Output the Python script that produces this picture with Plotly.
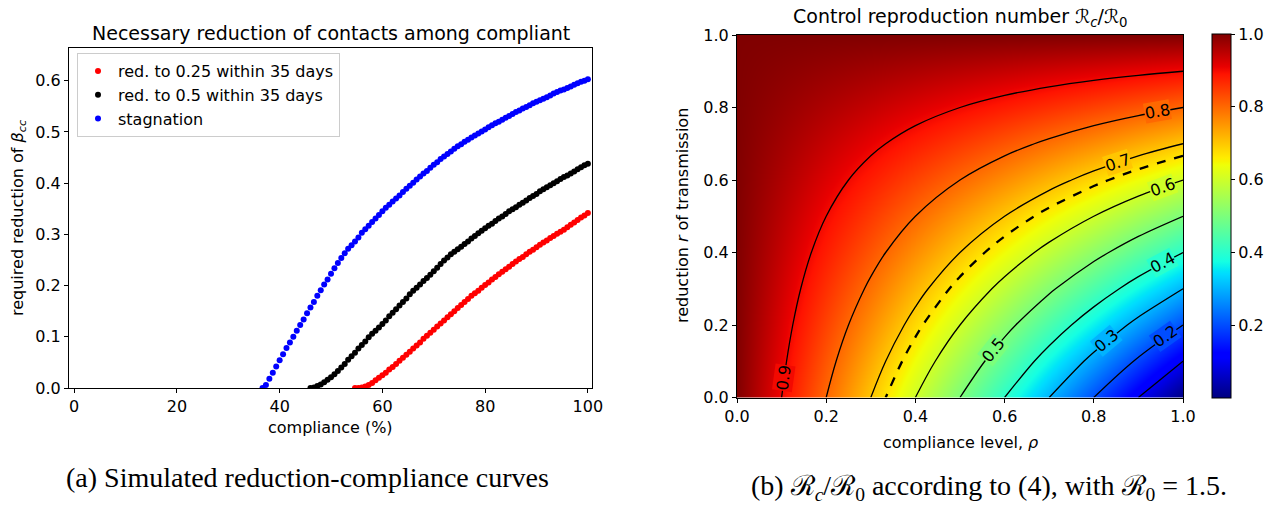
import plotly.graph_objects as go

W, H = 1277, 507

# ---------------- data: left panel ----------------
# simulated compliance grid (151 points from 0 to 100 %)
compliance_grid = [round(i * 2 / 3, 3) for i in range(151)]
red_start, black_start, blue_start = 82, 69, 55

red_025 = [0.000, 0.000, 0.001, 0.003, 0.006, 0.010, 0.015, 0.020, 0.025, 0.030,
           0.036, 0.041, 0.047, 0.053, 0.059, 0.065, 0.071, 0.077, 0.083, 0.089,
           0.096, 0.102, 0.108, 0.114, 0.120, 0.126, 0.132, 0.138, 0.144, 0.150,
           0.156, 0.162, 0.168, 0.174, 0.180, 0.185, 0.190, 0.196, 0.201, 0.206,
           0.212, 0.217, 0.222, 0.227, 0.232, 0.237, 0.242, 0.247, 0.252, 0.256,
           0.261, 0.266, 0.270, 0.275, 0.280, 0.284, 0.288, 0.293, 0.297, 0.301,
           0.305, 0.309, 0.314, 0.319, 0.323, 0.328, 0.333, 0.337, 0.342]

black_05 = [0.000, 0.001, 0.004, 0.007, 0.011, 0.016, 0.021, 0.027, 0.033, 0.040,
            0.047, 0.055, 0.062, 0.069, 0.077, 0.084, 0.091, 0.099, 0.106, 0.112,
            0.118, 0.125, 0.132, 0.140, 0.147, 0.154, 0.161, 0.168, 0.175, 0.183,
            0.190, 0.196, 0.202, 0.209, 0.215, 0.221, 0.228, 0.235, 0.242, 0.249,
            0.255, 0.261, 0.266, 0.271, 0.276, 0.281, 0.286, 0.292, 0.297, 0.302,
            0.307, 0.312, 0.317, 0.321, 0.326, 0.331, 0.335, 0.340, 0.345, 0.349,
            0.353, 0.358, 0.362, 0.366, 0.371, 0.375, 0.379, 0.384, 0.388, 0.392,
            0.396, 0.400, 0.404, 0.408, 0.412, 0.415, 0.419, 0.423, 0.427, 0.431,
            0.435, 0.438]

stagnation = [0.000, 0.006, 0.018, 0.030, 0.042, 0.054, 0.066, 0.078, 0.089, 0.100,
              0.112, 0.123, 0.134, 0.146, 0.157, 0.168, 0.180, 0.191, 0.202, 0.212,
              0.223, 0.234, 0.244, 0.254, 0.263, 0.272, 0.279, 0.286, 0.294, 0.303,
              0.310, 0.317, 0.324, 0.331, 0.338, 0.345, 0.352, 0.358, 0.364, 0.370,
              0.376, 0.383, 0.389, 0.395, 0.401, 0.407, 0.413, 0.419, 0.424, 0.430,
              0.436, 0.441, 0.447, 0.452, 0.457, 0.462, 0.467, 0.472, 0.476, 0.481,
              0.485, 0.489, 0.493, 0.497, 0.501, 0.505, 0.509, 0.513, 0.517, 0.520,
              0.524, 0.528, 0.531, 0.535, 0.539, 0.542, 0.546, 0.549, 0.552, 0.556,
              0.559, 0.562, 0.565, 0.568, 0.571, 0.575, 0.578, 0.581, 0.583, 0.586,
              0.589, 0.592, 0.595, 0.598, 0.600, 0.603]

series_names = ["red. to 0.25 within 35 days", "red. to 0.5 within 35 days", "stagnation"]

# ---------------- data: right panel ----------------
rho_levels = [0.0, 0.1, 0.2, 0.3, 0.4, 0.5, 0.6, 0.7, 0.8, 0.9, 1.0]
r_levels = [0.0, 0.1, 0.2, 0.3, 0.4, 0.5, 0.6, 0.7, 0.8, 0.9, 1.0]
rc_ratio = [
    [1.00, 0.90, 0.80, 0.70, 0.60, 0.50, 0.40, 0.30, 0.20, 0.10, 0.00],
    [1.00, 0.91, 0.82, 0.73, 0.64, 0.55, 0.46, 0.37, 0.28, 0.19, 0.10],
    [1.00, 0.92, 0.84, 0.76, 0.68, 0.60, 0.52, 0.44, 0.36, 0.28, 0.20],
    [1.00, 0.93, 0.86, 0.79, 0.72, 0.65, 0.58, 0.51, 0.44, 0.37, 0.30],
    [1.00, 0.94, 0.88, 0.82, 0.76, 0.70, 0.64, 0.58, 0.52, 0.46, 0.40],
    [1.00, 0.95, 0.90, 0.85, 0.80, 0.75, 0.70, 0.65, 0.60, 0.55, 0.50],
    [1.00, 0.96, 0.92, 0.88, 0.84, 0.80, 0.76, 0.72, 0.68, 0.64, 0.60],
    [1.00, 0.97, 0.94, 0.91, 0.88, 0.85, 0.82, 0.79, 0.76, 0.73, 0.70],
    [1.00, 0.98, 0.96, 0.94, 0.92, 0.90, 0.88, 0.86, 0.84, 0.82, 0.80],
    [1.00, 0.99, 0.98, 0.97, 0.96, 0.95, 0.94, 0.93, 0.92, 0.91, 0.90],
    [1.00, 1.00, 1.00, 1.00, 1.00, 1.00, 1.00, 1.00, 1.00, 1.00, 1.00],
]
R0 = 1.5

# inline contour labels: text, position (rho, r), rotation, background colour
contour_labels = [
    ("0.9", 0.105, 0.055, -82, "rgb(243,9,0)"),
    ("0.8", 0.942, 0.788, -10, "rgb(255,104,0)"),
    ("0.7", 0.854, 0.649, -18, "rgb(255,198,0)"),
    ("0.6", 0.953, 0.580, -20, "rgb(206,255,41)"),
    ("0.5", 0.574, 0.129, -51, "rgb(123,255,123)"),
    ("0.4", 0.955, 0.372, -28, "rgb(41,255,206)"),
    ("0.3", 0.829, 0.156, -40, "rgb(0,179,255)"),
    ("0.2", 0.960, 0.167, -35, "rgb(0,77,255)"),
]

# matplotlib "jet"
jet = [
    [0.0, "rgb(0,0,128)"], [0.11, "rgb(0,0,255)"], [0.125, "rgb(0,0,255)"],
    [0.34, "rgb(0,219,255)"], [0.35, "rgb(0,230,247)"], [0.375, "rgb(21,255,226)"],
    [0.64, "rgb(239,255,8)"], [0.65, "rgb(247,245,0)"], [0.66, "rgb(255,236,0)"],
    [0.89, "rgb(255,19,0)"], [0.91, "rgb(232,0,0)"], [1.0, "rgb(128,0,0)"],
]


def px(x):
    return x / W


def py(y):
    return 1 - y / H


SANS = "DejaVu Sans"
SERIF = "Liberation Serif"

fig = go.Figure()

colors = ["red", "black", "blue"]
starts = [red_start, black_start, blue_start]
values = [red_025, black_05, stagnation]
for name, col, st, vals in zip(series_names, colors, starts, values):
    fig.add_trace(go.Scatter(
        x=compliance_grid[st:st + len(vals)], y=vals, mode="markers",
        marker=dict(color=col, size=6, line=dict(width=0)),
        name=name, xaxis="x", yaxis="y",
    ))

fig.add_trace(go.Heatmap(
    x=rho_levels, y=r_levels, z=rc_ratio, colorscale=jet, zmin=0, zmax=1,
    zsmooth="best", xaxis="x2", yaxis="y2", showlegend=False,
    colorbar=dict(
        x=px(1212), xanchor="left", xpad=0, ypad=0,
        y=py(216), yanchor="middle", len=364, lenmode="pixels",
        thickness=19, thicknessmode="pixels",
        outlinecolor="black", outlinewidth=1,
        tickvals=[0.2, 0.4, 0.6, 0.8, 1.0], ticktext=["0.2", "0.4", "0.6", "0.8", "1.0"],
        ticks="outside", ticklen=4, tickcolor="black",
        tickfont=dict(family=SANS, size=16, color="black"),
    ),
))

fig.add_trace(go.Contour(
    x=rho_levels, y=r_levels, z=rc_ratio, xaxis="x2", yaxis="y2",
    contours=dict(start=0.1, end=0.9, size=0.1, coloring="none", showlabels=False),
    line=dict(color="black", width=1.3, smoothing=1),
    showscale=False, showlegend=False, hoverinfo="skip",
))
fig.add_trace(go.Contour(
    x=rho_levels, y=r_levels, z=rc_ratio, xaxis="x2", yaxis="y2",
    contours=dict(start=1 / R0, end=1 / R0, size=0.1, coloring="none"),
    line=dict(color="black", width=2.3, dash="dash", smoothing=1),
    showscale=False, showlegend=False, hoverinfo="skip",
))

axis_common = dict(
    showline=True, linecolor="black", linewidth=1, mirror=True,
    ticks="outside", ticklen=4, tickcolor="black", showgrid=False, zeroline=False,
    tickfont=dict(family=SANS, size=16, color="black"),
)

fig.update_layout(
    width=W, height=H,
    margin=dict(l=0, r=0, t=0, b=0, pad=0, autoexpand=False),
    paper_bgcolor="white", plot_bgcolor="white",
    xaxis=dict(domain=[px(69), px(592)], range=[-1, 100.8], anchor="y",
               tickvals=[0, 20, 40, 60, 80, 100], **axis_common),
    yaxis=dict(domain=[py(388), py(48)], range=[0, 0.664], anchor="x",
               tickvals=[0, 0.1, 0.2, 0.3, 0.4, 0.5, 0.6], tickformat=".1f", **axis_common),
    xaxis2=dict(domain=[px(737), px(1183)], range=[0, 1], anchor="y2",
                tickvals=[0, 0.2, 0.4, 0.6, 0.8, 1.0], tickformat=".1f", **axis_common),
    yaxis2=dict(domain=[py(397.5), py(35)], range=[0, 1], anchor="x2",
                tickvals=[0, 0.2, 0.4, 0.6, 0.8, 1.0], tickformat=".1f", **axis_common),
    legend=dict(x=px(77), y=py(53), xanchor="left", yanchor="top",
                bgcolor="white", bordercolor="#cccccc", borderwidth=1,
                font=dict(family=SANS, size=16, color="black")),
    showlegend=True,
)

for txt, cx, cy, ang, bg in contour_labels:
    fig.add_annotation(text=txt, x=cx, y=cy, xref="x2", yref="y2", showarrow=False,
                       textangle=ang, bgcolor=bg, borderpad=0,
                       xanchor="center", yanchor="middle",
                       font=dict(family=SANS, size=16, color="black"))

annos = [
    dict(text="Necessary reduction of contacts among compliant", x=px(331), y=py(33), size=19),
    dict(text="compliance (%)", x=px(330), y=py(427), size=16),
    dict(text="required reduction of <i>β</i><sub><i>cc</i></sub>", x=px(18), y=py(218), size=16, angle=-90),
    dict(text="Control reproduction number ℛ<sub><i>c</i></sub>/ℛ<sub>0</sub>", x=px(960), y=py(18), size=19),
    dict(text="compliance level, <i>ρ</i>", x=px(960), y=py(442), size=16),
    dict(text="reduction <i>r</i> of transmission", x=px(683), y=py(216), size=16, angle=-90),
]
for a in annos:
    fig.add_annotation(text=a["text"], x=a["x"], y=a["y"], xref="paper", yref="paper",
                       xanchor="center", yanchor="middle", showarrow=False,
                       textangle=a.get("angle", 0),
                       font=dict(family=SANS, size=a["size"], color="black"))

captions = [
    dict(text="(a) Simulated reduction-compliance curves", x=px(307), y=py(477)),
    dict(text="(b) ℛ<sub><i>c</i></sub>/ℛ<sub>0</sub> according to (4), with ℛ<sub>0</sub> = 1.5.",
         x=px(989), y=py(487)),
]
for c in captions:
    fig.add_annotation(text=c["text"], x=c["x"], y=c["y"], xref="paper", yref="paper",
                       xanchor="center", yanchor="middle", showarrow=False,
                       font=dict(family=SERIF, size=28, color="black"))

fig.write_html(
    "out.html",
    config={"displayModeBar": False},
    post_script="document.body.style.margin='0px';document.body.style.padding='0px';"
                "document.documentElement.style.overflow='hidden';",
)
